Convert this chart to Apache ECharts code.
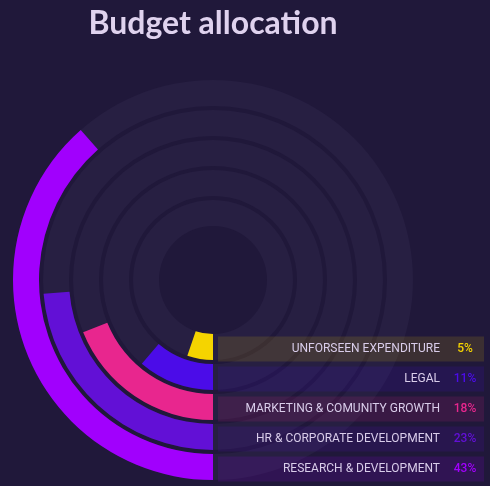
<!DOCTYPE html>
<html>
<head>
<meta charset="utf-8">
<script src="https://cdn.jsdelivr.net/npm/echarts@6/dist/echarts.min.js"></script>
<style>
  html, body { margin: 0; background: #20183a; }
  #main { width: 490px; height: 486px; }
</style>
</head>
<body>
<div id="main"></div>
<script>
// categories, inner ring first
const categories = [
  "UNFORSEEN EXPENDITURE",
  "LEGAL",
  "MARKETING & COMUNITY GROWTH",
  "HR & CORPORATE DEVELOPMENT",
  "RESEARCH & DEVELOPMENT"
];
// share printed in the labels
const shares = [5, 11, 18, 23, 43];
// ring length (percent of a full turn)
const arcs = [5.2, 11.2, 18.9, 23.7, 38.5];
const colors = ["#f5d400", "#4b0ce8", "#e8268e", "#6210d6", "#a100fd"];

const labelFont = "Roboto";

function fade(hex, a) {
  const n = parseInt(hex.slice(1), 16);
  return "rgba(" + (n >> 16) + "," + ((n >> 8) & 255) + "," + (n & 255) + "," + a + ")";
}

const chart = echarts.init(document.getElementById("main"));

const option = {
  backgroundColor: "#20183a",
  animation: false,
  title: {
    text: "Budget allocation",
    left: 208,
    top: 3,
    textAlign: "center",
    textStyle: {
      color: "#dfd2ee",
      fontFamily: "Lato",
      fontWeight: "bold",
      fontSize: 32
    }
  },
  polar: {
    center: [213, 280],
    radius: [52, 202]
  },
  angleAxis: {
    type: "value",
    min: 0,
    max: 100,
    startAngle: 270,
    clockwise: true,
    show: false
  },
  radiusAxis: {
    type: "category",
    data: categories,
    show: false
  },
  // the label rows on the right
  grid: {
    left: 218,
    right: 6,
    top: 334,
    bottom: 2
  },
  xAxis: { type: "value", min: 0, max: 1, show: false },
  yAxis: { type: "category", data: categories, inverse: true, show: false },
  series: [
    {
      type: "bar",
      coordinateSystem: "polar",
      barWidth: 26,
      showBackground: true,
      backgroundStyle: { color: "#271f42" },
      data: arcs.map((v, i) => ({ value: v, itemStyle: { color: colors[i] } }))
    },
    {
      type: "bar",
      barWidth: 25,
      data: categories.map((c, i) => ({
        value: 1,
        itemStyle: { color: fade(colors[i], 0.13) },
        label: {
          show: true,
          position: "insideRight",
          distance: 4,
          formatter: "{n|" + c + "}{p|" + shares[i] + "%}",
          rich: {
            n: {
              color: "#d9cdea",
              fontFamily: labelFont,
              fontSize: 12,
              padding: [0, 10, 0, 0]
            },
            p: {
              color: colors[i],
              fontFamily: labelFont,
              fontWeight: 500,
              fontSize: 12,
              width: 30,
              align: "center"
            }
          }
        }
      }))
    }
  ]
};

chart.setOption(option);
</script>
</body>
</html>
